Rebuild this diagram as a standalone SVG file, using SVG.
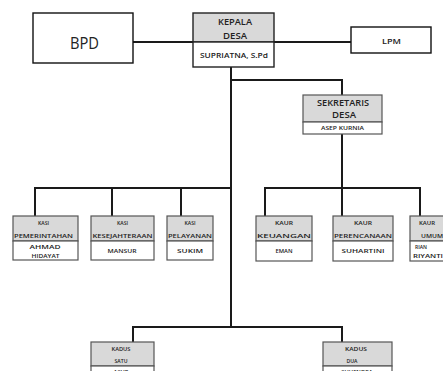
<svg xmlns="http://www.w3.org/2000/svg" width="443" height="371" viewBox="0 0 443 371">
<style>
.bg{fill:#fff}
.big{fill:#fff;stroke:#111;stroke-width:1.4}
.hd{fill:#d9d9d9;stroke:#555;stroke-width:1.2}
.bd{fill:#fff;stroke:#555;stroke-width:1.2}
.hdk{fill:#d9d9d9;stroke:#222;stroke-width:1.4}
.bdk{fill:#fff;stroke:#222;stroke-width:1.4}
.c{fill:none;stroke:#1a1a1a;stroke-width:2}
text{font-family:"Open Sans","Liberation Sans",sans-serif;fill:#222;text-anchor:middle;dominant-baseline:central;font-weight:600}
.s{font-size:5.8px}
.m{font-size:8.4px}
.l{font-size:16.5px;font-weight:400}
</style>
<rect class="bg" x="0" y="0" width="443" height="371"/>
<g id="connectors">
<path class="c" d="M133 42H193M274 42H352"/>
<path class="c" d="M231 67V327M231 80H342V95"/>
<path class="c" d="M231 188H35V216M112 188V216M181 188V216"/>
<path class="c" d="M342 134V216M265 216V188H420V216"/>
<path class="c" d="M133 342V327H342V342"/>
</g>
<g id="bpd"><rect class="big" x="33" y="13" width="100" height="50"/><text class="l" x="84.5" y="42" textLength="29" lengthAdjust="spacingAndGlyphs">BPD</text></g>
<g id="kepala"><rect class="hdk" x="193" y="13" width="81" height="29"/><rect class="bdk" x="193" y="42" width="81" height="25"/>
<text class="m" x="235" y="21" textLength="34" lengthAdjust="spacingAndGlyphs">KEPALA</text><text class="m" x="235" y="35" textLength="24" lengthAdjust="spacingAndGlyphs">DESA</text><text class="m" x="234" y="55" style="font-size:7px" textLength="68" lengthAdjust="spacingAndGlyphs">SUPRIATNA, S.Pd</text></g>
<g id="lpm"><rect class="big" x="351" y="27" width="80" height="26"/><text class="m" x="391.5" y="41.5" style="font-size:7px" textLength="19" lengthAdjust="spacingAndGlyphs">LPM</text></g>
<g id="sekretaris"><rect class="hd" x="303" y="95" width="79" height="27"/><rect class="bd" x="303" y="122" width="79" height="12"/>
<text class="m" x="343" y="102.5" style="font-size:8.8px" textLength="52" lengthAdjust="spacingAndGlyphs">SEKRETARIS</text><text class="m" x="344" y="115" style="font-size:8.8px" textLength="24" lengthAdjust="spacingAndGlyphs">DESA</text><text class="s" x="342.5" y="128" textLength="43" lengthAdjust="spacingAndGlyphs">ASEP KURNIA</text></g>
<g id="kasi-pem"><rect class="hd" x="13" y="216" width="65" height="25"/><rect class="bd" x="13" y="241" width="65" height="19"/>
<text class="s" x="43.5" y="223" textLength="11" lengthAdjust="spacingAndGlyphs">KASI</text><text class="s" x="43.5" y="235.5" textLength="59" lengthAdjust="spacingAndGlyphs">PEMERINTAHAN</text><text class="s" x="45" y="246.5" textLength="31" lengthAdjust="spacingAndGlyphs">AHMAD</text><text class="s" x="45.5" y="255.5" textLength="28" lengthAdjust="spacingAndGlyphs">HIDAYAT</text></g>
<g id="kasi-kes"><rect class="hd" x="91" y="216" width="63" height="25"/><rect class="bd" x="91" y="241" width="63" height="19"/>
<text class="s" x="122.5" y="223" textLength="11" lengthAdjust="spacingAndGlyphs">KASI</text><text class="s" x="122.5" y="235.5" textLength="60" lengthAdjust="spacingAndGlyphs">KESEJAHTERAAN</text><text class="s" x="122" y="251" textLength="29" lengthAdjust="spacingAndGlyphs">MANSUR</text></g>
<g id="kasi-pel"><rect class="hd" x="167" y="216" width="46" height="25"/><rect class="bd" x="167" y="241" width="46" height="19"/>
<text class="s" x="190" y="223" textLength="11" lengthAdjust="spacingAndGlyphs">KASI</text><text class="s" x="190" y="235.5" textLength="44" lengthAdjust="spacingAndGlyphs">PELAYANAN</text><text class="s" x="190" y="251" textLength="26" lengthAdjust="spacingAndGlyphs">SUKIM</text></g>
<g id="kaur-keu"><rect class="hd" x="256" y="216" width="56" height="25"/><rect class="bd" x="256" y="241" width="56" height="20"/>
<text class="s" x="284" y="223" textLength="18" lengthAdjust="spacingAndGlyphs">KAUR</text><text class="s" x="284" y="235.5" textLength="54" lengthAdjust="spacingAndGlyphs">KEUANGAN</text><text class="s" x="284" y="251" textLength="17" lengthAdjust="spacingAndGlyphs">EMAN</text></g>
<g id="kaur-per"><rect class="hd" x="333" y="216" width="60" height="25"/><rect class="bd" x="333" y="241" width="60" height="20"/>
<text class="s" x="363" y="223" textLength="18" lengthAdjust="spacingAndGlyphs">KAUR</text><text class="s" x="363" y="235.5" textLength="58" lengthAdjust="spacingAndGlyphs">PERENCANAAN</text><text class="s" x="363" y="251" textLength="43" lengthAdjust="spacingAndGlyphs">SUHARTINI</text></g>
<g id="kaur-umum"><rect class="hd" x="410" y="216" width="46" height="25"/><rect class="bd" x="410" y="241" width="46" height="20"/>
<text class="s" x="427" y="223" textLength="16" lengthAdjust="spacingAndGlyphs">KAUR</text><text class="s" x="432" y="235.5" textLength="22" lengthAdjust="spacingAndGlyphs">UMUM</text><text class="s" x="421" y="246.5" textLength="12" lengthAdjust="spacingAndGlyphs">RIAN</text><text class="s" x="428" y="255.5" textLength="30" lengthAdjust="spacingAndGlyphs">RIYANTI</text></g>
<g id="kadus-satu"><rect class="hd" x="91" y="342" width="63" height="24"/><rect class="bd" x="91" y="366" width="63" height="12"/>
<text class="s" x="121" y="349" textLength="19" lengthAdjust="spacingAndGlyphs">KADUS</text><text class="s" x="121" y="361" textLength="13" lengthAdjust="spacingAndGlyphs">SATU</text><text class="s" x="121" y="372">ASUP</text></g>
<g id="kadus-dua"><rect class="hd" x="323" y="342" width="69" height="24"/><rect class="bd" x="323" y="366" width="69" height="12"/>
<text class="s" x="356" y="349" textLength="22" lengthAdjust="spacingAndGlyphs">KADUS</text><text class="s" x="352" y="361" textLength="11" lengthAdjust="spacingAndGlyphs">DUA</text><text class="s" x="357" y="372">SUHENDRA</text></g>
</svg>
